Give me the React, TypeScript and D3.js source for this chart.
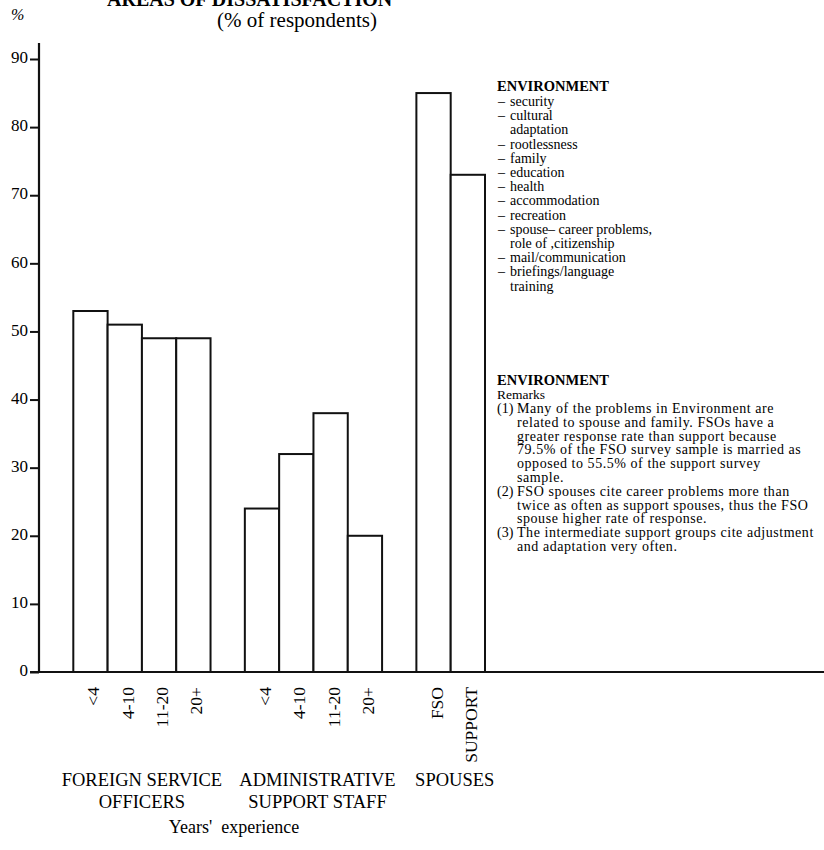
import React, { useEffect, useRef } from 'react';
import * as d3 from 'd3';

// values (% of respondents)
const fsoYears = ['<4', '4-10', '11-20', '20+'];
const fsoValues = [53, 51, 49, 49];
const adminYears = ['<4', '4-10', '11-20', '20+'];
const adminValues = [24, 32, 38, 20];
const spouseTypes = ['FSO', 'SUPPORT'];
const spouseValues = [85, 73];

const groupLabels = [
  ['FOREIGN SERVICE', 'OFFICERS'],
  ['ADMINISTRATIVE', 'SUPPORT STAFF'],
  ['SPOUSES'],
];

const yTicks = [0, 10, 20, 30, 40, 50, 60, 70, 80, 90];

const legendItems = [
  ['security'],
  ['cultural', 'adaptation'],
  ['rootlessness'],
  ['family'],
  ['education'],
  ['health'],
  ['accommodation'],
  ['recreation'],
  ['spouse– career problems,', 'role of ,citizenship'],
  ['mail/communication'],
  ['briefings/language', 'training'],
];

const remarks = [
  {
    num: '(1)',
    lines: [
      'Many of the problems in Environment are',
      'related to spouse and family. FSOs have a',
      'greater response rate than support because',
      '79.5% of the FSO survey sample is married as',
      'opposed to 55.5% of the support survey',
      'sample.',
    ],
  },
  {
    num: '(2)',
    lines: [
      'FSO spouses cite career problems more than',
      'twice as often as support spouses, thus the FSO',
      'spouse higher rate of response.',
    ],
  },
  {
    num: '(3)',
    lines: [
      'The intermediate support groups cite adjustment',
      'and adaptation very often.',
    ],
  },
];

const FONT = '"Liberation Serif", "Times New Roman", serif';

export default function App() {
  const svgRef = useRef<SVGSVGElement>(null);

  useEffect(() => {
    if (!svgRef.current) return;
    const svg = d3.select(svgRef.current);
    svg.selectAll('*').remove();

    const groups = [
      { key: 'fso', cats: fsoYears, values: fsoValues },
      { key: 'adm', cats: adminYears, values: adminValues },
      { key: 'sp', cats: spouseTypes, values: spouseValues },
    ];

    // one empty slot before each group
    const domain: string[] = [];
    const bars: { key: string; label: string; value: number; group: number }[] = [];
    groups.forEach((g, gi) => {
      domain.push(`gap${gi}`);
      g.cats.forEach((c, i) => {
        const key = `${g.key}-${c}`;
        domain.push(key);
        bars.push({ key, label: c, value: g.values[i], group: gi });
      });
    });

    const axisX = 39;
    const x = d3.scaleBand().domain(domain).range([axisX, 485]).paddingInner(0).paddingOuter(0);
    const y = d3.scaleLinear().domain([0, 90]).range([672, 59]);

    const g = svg.append('g').attr('font-family', FONT).attr('fill', '#000');

    // title (cut off at top of the scan)
    g.append('text')
      .attr('x', 107)
      .attr('y', 6)
      .attr('font-size', 20)
      .attr('font-weight', 'bold')
      .text('AREAS OF DISSATISFACTION');

    g.append('text')
      .attr('x', 297)
      .attr('y', 27)
      .attr('text-anchor', 'middle')
      .attr('font-size', 21)
      .text('(% of respondents)');

    g.append('text')
      .attr('x', 11)
      .attr('y', 20)
      .attr('font-size', 16)
      .attr('font-style', 'italic')
      .text('%');

    // bars
    g.selectAll('.bar')
      .data(bars)
      .enter()
      .append('rect')
      .attr('class', 'bar')
      .attr('x', d => x(d.key)!)
      .attr('y', d => y(d.value))
      .attr('width', x.bandwidth())
      .attr('height', d => y(0) - y(d.value))
      .attr('fill', '#fff')
      .attr('stroke', '#111')
      .attr('stroke-width', 2);

    // y axis
    const yAxis = d3.axisLeft(y).tickValues(yTicks).tickSize(9).tickPadding(2);
    const ya = g.append('g')
      .attr('transform', `translate(${axisX},0)`)
      .call(yAxis);
    ya.select('.domain').remove();
    ya.selectAll('line').attr('stroke', '#111').attr('stroke-width', 2);
    ya.selectAll('text')
      .attr('font-family', FONT)
      .attr('font-size', 17)
      .attr('fill', '#000')
      .attr('dy', '0.22em');

    g.append('line')
      .attr('x1', axisX)
      .attr('x2', axisX)
      .attr('y1', y(90) - 16)
      .attr('y2', y(0))
      .attr('stroke', '#111')
      .attr('stroke-width', 2.2);

    g.append('line')
      .attr('x1', axisX - 9)
      .attr('x2', 824)
      .attr('y1', y(0))
      .attr('y2', y(0))
      .attr('stroke', '#111')
      .attr('stroke-width', 2.2);

    // rotated category labels
    g.selectAll('.xlab')
      .data(bars)
      .enter()
      .append('text')
      .attr('class', 'xlab')
      .attr('transform', d => `translate(${x(d.key)! + x.bandwidth() / 2 + 9},${y(0) + 15}) rotate(-90)`)
      .attr('text-anchor', 'end')
      .attr('font-size', 17.5)
      .text(d => d.label);

    // group labels
    const labelShift = [0, 4, 4];
    groupLabels.forEach((lines, gi) => {
      const gb = bars.filter(b => b.group === gi);
      const cx = (x(gb[0].key)! + x(gb[gb.length - 1].key)! + x.bandwidth()) / 2 + labelShift[gi];
      lines.forEach((line, li) => {
        g.append('text')
          .attr('x', cx)
          .attr('y', 786 + li * 22)
          .attr('text-anchor', 'middle')
          .attr('font-size', 18.5)
          .text(line);
      });
    });

    g.append('text')
      .attr('x', 234)
      .attr('y', 833)
      .attr('text-anchor', 'middle')
      .attr('font-size', 18)
      .attr('xml:space', 'preserve')
      .text("Years'  experience");

    // legend block
    const lx = 497;
    g.append('text')
      .attr('x', lx)
      .attr('y', 91)
      .attr('font-size', 14.5)
      .attr('font-weight', 'bold')
      .text('ENVIRONMENT');

    let row = 0;
    legendItems.forEach(lines => {
      lines.forEach((line, li) => {
        const yy = 106 + row * 14.2;
        if (li === 0) {
          g.append('text').attr('x', lx + 1).attr('y', yy).attr('font-size', 14).text('–');
        }
        g.append('text').attr('x', lx + 13).attr('y', yy).attr('font-size', 14).text(line);
        row++;
      });
    });

    // remarks block
    g.append('text')
      .attr('x', lx)
      .attr('y', 385)
      .attr('font-size', 14.5)
      .attr('font-weight', 'bold')
      .text('ENVIRONMENT');
    g.append('text')
      .attr('x', lx)
      .attr('y', 399)
      .attr('font-size', 13.5)
      .text('Remarks');

    let rrow = 0;
    remarks.forEach(r => {
      r.lines.forEach((line, li) => {
        const yy = 413 + rrow * 13.8;
        if (li === 0) {
          g.append('text').attr('x', lx).attr('y', yy).attr('font-size', 14).text(r.num);
        }
        g.append('text')
          .attr('x', lx + 20)
          .attr('y', yy)
          .attr('font-size', 14)
          .attr('letter-spacing', 0.55)
          .text(line);
        rrow++;
      });
    });
  }, []);

  return (
    <svg
      ref={svgRef}
      width={824}
      height={850}
      style={{ position: 'absolute', top: 0, left: 0, background: '#fff' }}
    />
  );
}
